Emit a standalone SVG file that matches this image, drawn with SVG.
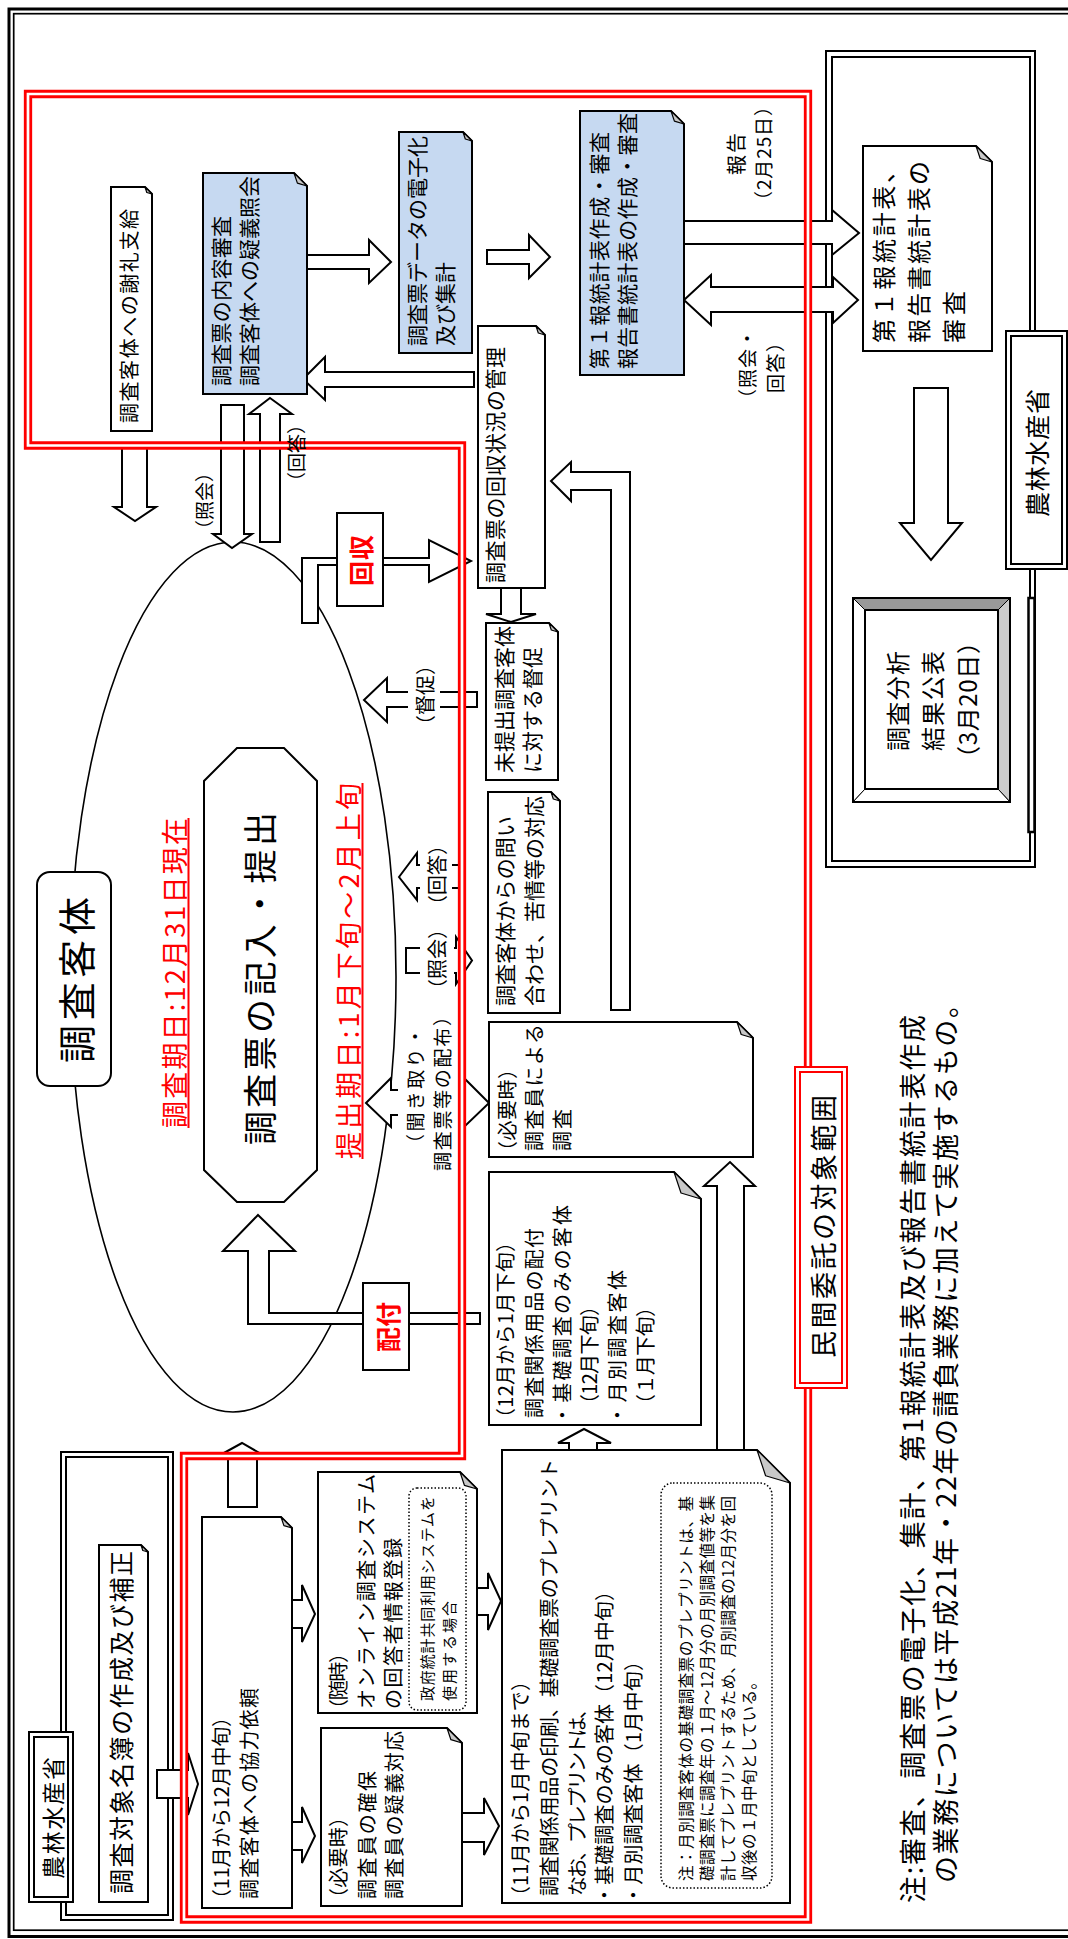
<svg xmlns="http://www.w3.org/2000/svg" width="1068" height="1939" viewBox="0 0 1068 1939">
<style>
.bx{fill:#fff;stroke:#000;stroke-width:2}
.bu{fill:#C6D9F1;stroke:#000;stroke-width:2}
.fd{fill:#C8C8C8;stroke:#000;stroke-width:1.2;stroke-linejoin:round}
.ar{fill:#fff;stroke:#000;stroke-width:2;stroke-linejoin:miter}
.fr{fill:none;stroke:#000;stroke-width:2}
.t{font-family:'Noto Sans CJK JP','Noto Sans CJK SC',sans-serif;fill:#000}
.rt{font-family:'Noto Sans CJK JP','Noto Sans CJK SC',sans-serif;fill:#FF0000}
.dot{fill:none;stroke:#000;stroke-width:1.5;stroke-dasharray:1.5 2}
.gap{fill:#fff;stroke:none}
</style>
<rect width="1068" height="1939" fill="#fff"/>
<g id="page-frame">
<rect x="9" y="9" width="1100" height="1927.5" fill="none" stroke="#000" stroke-width="3"/>
<rect x="13.7" y="13.7" width="1100" height="1916.5" fill="none" stroke="#000" stroke-width="1.7"/>
</g>
<g id="maff-left-frame">
<rect x="61" y="1452" width="112" height="468" class="fr"/>
<rect x="66" y="1457" width="102" height="458" class="fr"/>
</g>
<g id="maff-right-frame">
<rect x="826" y="51" width="209" height="816" class="fr"/>
<rect x="832" y="57" width="198" height="804" class="fr"/>
<rect x="1028.5" y="598" width="6" height="234" fill="#fff" stroke="#000" stroke-width="2.5"/>
</g>
<g id="survey-ellipse">
<ellipse cx="233" cy="977" rx="163" ry="435" fill="none" stroke="#000" stroke-width="1.6"/>
</g>
<g id="connectors">
<polygon class="ar" points="157,1770 188,1770 188,1753 198,1784 188,1815 188,1798 157,1798"/>
<polygon class="ar" points="228,1507 228,1459 213,1459 242,1443 270,1459 257,1459 257,1507"/>
<polygon class="ar" points="292,1600 302,1600 302,1585 315,1614 302,1642 302,1628 292,1628"/>
<polygon class="ar" points="292,1822 302,1822 302,1807 315,1836 302,1863 302,1850 292,1850"/>
<polygon class="ar" points="462,1813 484,1813 484,1798 499,1826 484,1855 484,1842 462,1842"/>
<polygon class="ar" points="477,1588 488,1588 488,1573 501,1601 488,1630 488,1615 477,1615"/>
<polygon class="ar" points="717,1452 717,1186 704,1186 730,1162 755,1186 744,1186 744,1452"/>
<polygon class="ar" points="569,1452 569,1443 558,1443 584,1429 611,1443 597,1443 597,1452"/>
<polygon class="ar" points="258,1215 295,1251 269,1251 269,1313 480,1313 480,1324 248,1324 248,1251 223,1251"/>
<polygon class="ar" points="302,623 302,558 429,558 429,540 471,561 429,582 429,565 318,565 318,623"/>
<polygon class="ar" points="364,700 387,678 387,692 477,692 477,707 387,707 387,722"/>
<rect class="gap" x="408" y="689" width="32" height="21"/>
<text class="t" font-size="20" transform="translate(433 735) rotate(-90)">（督促）</text>
<polygon class="ar" points="399,877 417,853 417,865 465,865 465,888 417,888 417,900"/>
<rect class="gap" x="420" y="862" width="32" height="29"/>
<text class="t" font-size="20" transform="translate(445 915) rotate(-90)">（回答）</text>
<polygon class="ar" points="406,948 456,948 456,937 472,960.5 456,984 456,973 406,973"/>
<rect class="gap" x="420" y="945" width="34" height="31"/>
<text class="t" font-size="20" transform="translate(445 999) rotate(-90)">（照会）</text>
<polygon class="ar" points="366,1103 391,1078 391,1090 464,1090 464,1078 489,1103 464,1127 464,1115 391,1115 391,1127"/>
<rect class="gap" x="398" y="1087" width="61" height="31"/>
<text class="t" font-size="19" textLength="126" transform="translate(423 1153) rotate(-90)">（聞き取り・</text>
<text class="t" font-size="19" textLength="164" transform="translate(450 1171) rotate(-90)">調査票等の配布）</text>
<polygon class="ar" points="221,405 244,405 244,534 252,534 232,548 213,534 221,534"/>
<text class="t" font-size="19" transform="translate(212 539) rotate(-90)">（照会）</text>
<polygon class="ar" points="270,398 292,414 280,414 280,542 260,542 260,414 249,414"/>
<polygon class="ar" points="122,443 147,443 147,507 156,507 135,521 114,507 122,507"/>
<polygon class="ar" points="307,255 369,255 369,240 391,262 369,283 369,269 307,269"/>
<polygon class="ar" points="474,372 325,372 325,357 303,379 325,400 325,387 474,387"/>
<polygon class="ar" points="487,250 529,250 529,235 550,257 529,278 529,264 487,264"/>
<polygon class="ar" points="684,221 832,221 832,210 859,233 832,255 832,244 684,244"/>
<polygon class="ar" points="684,300 711,275 711,287 833,287 833,277 858,300 833,323 833,312 711,312 711,325"/>
<text class="t" font-size="20" textLength="42" transform="translate(744 175) rotate(-90)">報告</text>
<text class="t" font-size="19" textLength="113" transform="translate(771 210) rotate(-90)">（2月25日）</text>
<text class="t" font-size="19" textLength="79" transform="translate(755 408) rotate(-90)">（照会・</text>
<text class="t" font-size="19" textLength="60" transform="translate(783 393) rotate(-90)">回答）</text>
<polygon class="ar" points="914,388 948,388 948,523 962,523 931,560 900,523 914,523"/>
<polygon class="ar" points="501,588 521,588 521,614 536,614 511,622 486,614 501,614"/>
<polygon class="ar" points="630,1010 630,472 571,472 571,462 551,481 571,501 571,490 611,490 611,1010"/>
</g>
<g id="outsourcing-frame">
<path d="M28,94 H808 V1919.5 H184 V1456 H462 V445.5 H28 Z" fill="none" stroke="#FF0000" stroke-width="8.3"/>
<path d="M28,94 H808 V1919.5 H184 V1456 H462 V445.5 H28 Z" fill="none" stroke="#fff" stroke-width="2.7"/>
</g>
<g id="connector-labels">
<text class="t" font-size="19" transform="translate(304 491) rotate(-90)">（回答）</text>
</g>
<g id="maff-left">
<rect x="29" y="1732" width="44" height="170" class="bx"/>
<rect x="34" y="1737" width="34" height="160" class="fr"/>
<text class="t" font-size="23" textLength="122" transform="translate(62 1879) rotate(-90)">農林水産省</text>
</g>
<g id="list-making">
<path class="bx" d="M99,1545 H141 L148,1552 V1902 H99 Z"/>
<path class="fd" d="M141,1545 L148,1552 L142.8,1550.5 Z"/>
<text class="t" font-size="25" textLength="343" transform="translate(131 1894) rotate(-90)">調査対象名簿の作成及び補正</text>
</g>
<g id="request">
<path class="bx" d="M202,1517 H281 L292,1528 V1908 H202 Z"/>
<path class="fd" d="M281,1517 L292,1528 L283.9,1525.6 Z"/>
<text class="t" font-size="20" textLength="202" transform="translate(229 1909) rotate(-90)">（11月から12月中旬）</text>
<text class="t" font-size="20" textLength="211" transform="translate(257 1899) rotate(-90)">調査客体への協力依頼</text>
</g>
<g id="enumerator">
<path class="bx" d="M321,1728 H447 L462,1743 V1906 H321 Z"/>
<path class="fd" d="M447,1728 L462,1743 L450.9,1739.7 Z"/>
<text class="t" font-size="20" textLength="101" transform="translate(346 1908) rotate(-90)">（必要時）</text>
<text class="t" font-size="20" textLength="128" transform="translate(375 1899) rotate(-90)">調査員の確保</text>
<text class="t" font-size="20" textLength="168" transform="translate(402 1899) rotate(-90)">調査員の疑義対応</text>
</g>
<g id="online">
<path class="bx" d="M318,1472 H460 L477,1489 V1713 H318 Z"/>
<path class="fd" d="M460,1472 L477,1489 L464.4,1485.3 Z"/>
<text class="t" font-size="20" textLength="76" transform="translate(346 1719) rotate(-90)">（随時）</text>
<text class="t" font-size="20" textLength="235" transform="translate(374 1709) rotate(-90)">オンライン調査システム</text>
<text class="t" font-size="20" textLength="171" transform="translate(401 1709) rotate(-90)">の回答者情報登録</text>
<rect class="dot" x="409" y="1488" width="57" height="222" rx="8"/>
<text class="t" font-size="15" textLength="205" transform="translate(433 1701) rotate(-90)">政府統計共同利用システムを</text>
<text class="t" font-size="15" textLength="100" transform="translate(455 1701) rotate(-90)">使用する場合</text>
</g>
<g id="printing">
<path class="bx" d="M502,1450 H757 L790,1483 V1903 H502 Z"/>
<path class="fd" d="M757,1450 L790,1483 L765.6,1475.7 Z"/>
<text class="t" font-size="20" textLength="235" transform="translate(528 1906) rotate(-90)">（11月から1月中旬まで）</text>
<text class="t" font-size="20" textLength="437" transform="translate(557 1896) rotate(-90)">調査関係用品の印刷、基礎調査票のプレプリント</text>
<text class="t" font-size="20" textLength="197" transform="translate(585 1896) rotate(-90)">なお、プレプリントは、</text>
<text class="t" font-size="20" textLength="324" transform="translate(612 1905) rotate(-90)">・基礎調査のみの客体（12月中旬）</text>
<text class="t" font-size="20" textLength="254" transform="translate(641 1905) rotate(-90)">・月別調査客体（1月中旬）</text>
<rect class="dot" x="661" y="1483" width="111" height="405" rx="12"/>
<text class="t" font-size="15.5" textLength="385" transform="translate(692 1881) rotate(-90)">注：月別調査客体の基礎調査票のプレプリントは、基</text>
<text class="t" font-size="15.5" textLength="386" transform="translate(713 1881) rotate(-90)">礎調査票に調査年の１月～12月分の月別調査値等を集</text>
<text class="t" font-size="15.5" textLength="385" transform="translate(734 1881) rotate(-90)">計してプレプリントするため、月別調査の12月分を回</text>
<text class="t" font-size="15.5" textLength="207" transform="translate(755 1881) rotate(-90)">収後の１月中旬としている。</text>
</g>
<g id="distribution">
<path class="bx" d="M489,1172 H674 L701,1199 V1425 H489 Z"/>
<path class="fd" d="M674,1172 L701,1199 L681,1193 Z"/>
<text class="t" font-size="20" textLength="196" transform="translate(513 1428) rotate(-90)">（12月から1月下旬）</text>
<text class="t" font-size="20" textLength="190" transform="translate(542 1418) rotate(-90)">調査関係用品の配付</text>
<text class="t" font-size="20" textLength="220" transform="translate(570 1425) rotate(-90)">・基礎調査のみの客体</text>
<text class="t" font-size="20" textLength="118" transform="translate(597 1414) rotate(-90)">（12月下旬）</text>
<text class="t" font-size="20" textLength="155" transform="translate(625 1425) rotate(-90)">・月別調査客体</text>
<text class="t" font-size="20" textLength="117" transform="translate(653 1414) rotate(-90)">（１月下旬）</text>
</g>
<g id="haifu-label">
<rect x="363" y="1283" width="46" height="87" class="bx"/>
<text class="rt" font-size="25" font-weight="bold" textLength="50" transform="translate(398 1352) rotate(-90)">配付</text>
</g>
<g id="survey-subject">
<rect x="37" y="872" width="74" height="214" rx="13" class="bx"/>
<text class="t" font-size="38" textLength="166" transform="translate(91 1063) rotate(-90)">調査客体</text>
<text class="rt" font-size="27" textLength="310" transform="translate(185 1128) rotate(-90)">調査期日:12月31日現在</text>
<line x1="188.5" y1="818" x2="188.5" y2="1128" stroke="#FF0000" stroke-width="2"/>
<polygon class="bx" points="237,748 284,748 317,781 317,1170 284,1202 237,1202 204,1170 204,781"/>
<text class="t" font-size="34" textLength="333" transform="translate(273 1145) rotate(-90)">調査票の記入・提出</text>
<text class="rt" font-size="27" textLength="376" transform="translate(359 1159) rotate(-90)">提出期日:1月下旬～2月上旬</text>
<line x1="362.5" y1="783" x2="362.5" y2="1159" stroke="#FF0000" stroke-width="2"/>
</g>
<g id="kaishu-label">
<rect x="337" y="513" width="46" height="93" class="bx"/>
<text class="rt" font-size="25" font-weight="bold" textLength="51" transform="translate(371 586) rotate(-90)">回収</text>
</g>
<g id="collection-status">
<path class="bx" d="M478,326 H536 L545,335 V588 H478 Z"/>
<path class="fd" d="M536,326 L545,335 L538.3,333 Z"/>
<text class="t" font-size="21" textLength="236" transform="translate(503 583) rotate(-90)">調査票の回収状況の管理</text>
</g>
<g id="reminder">
<path class="bx" d="M486,623 H549 L558,632 V780 H486 Z"/>
<path class="fd" d="M549,623 L558,632 L551.3,630 Z"/>
<text class="t" font-size="21" textLength="147" transform="translate(512 773) rotate(-90)">未提出調査客体</text>
<text class="t" font-size="21" textLength="126" transform="translate(540 773) rotate(-90)">に対する督促</text>
</g>
<g id="inquiries">
<path class="bx" d="M488,792 H551 L560,801 V1013 H488 Z"/>
<path class="fd" d="M551,792 L560,801 L553.3,799 Z"/>
<text class="t" font-size="21" textLength="190" transform="translate(513 1006) rotate(-90)">調査客体からの問い</text>
<text class="t" font-size="21" textLength="210" transform="translate(542 1006) rotate(-90)">合わせ、苦情等の対応</text>
</g>
<g id="enumerator-survey">
<path class="bx" d="M489,1022 H737 L753,1038 V1157 H489 Z"/>
<path class="fd" d="M737,1022 L753,1038 L741.2,1034.5 Z"/>
<text class="t" font-size="20" textLength="102" transform="translate(515 1161) rotate(-90)">（必要時）</text>
<text class="t" font-size="20" textLength="127" transform="translate(542 1151) rotate(-90)">調査員による</text>
<text class="t" font-size="20" textLength="42" transform="translate(570 1151) rotate(-90)">調査</text>
</g>
<g id="reward">
<path class="bx" d="M111,187 H145 L152,194 V431 H111 Z"/>
<path class="fd" d="M145,187 L152,194 L146.8,192.5 Z"/>
<text class="t" font-size="20" textLength="214" transform="translate(137 423) rotate(-90)">調査客体への謝礼支給</text>
</g>
<g id="review">
<path class="bu" d="M203,173 H294 L307,186 V394 H203 Z"/>
<path class="fd" d="M294,173 L307,186 L297.4,183.1 Z"/>
<text class="t" font-size="21" textLength="170" transform="translate(229 386) rotate(-90)">調査票の内容審査</text>
<text class="t" font-size="21" textLength="210" transform="translate(257 386) rotate(-90)">調査客体への疑義照会</text>
</g>
<g id="digitize">
<path class="bu" d="M399,132 H463 L472,141 V353 H399 Z"/>
<path class="fd" d="M463,132 L472,141 L465.3,139 Z"/>
<text class="t" font-size="21" textLength="210" transform="translate(425 346) rotate(-90)">調査票データの電子化</text>
<text class="t" font-size="21" textLength="84" transform="translate(453 346) rotate(-90)">及び集計</text>
</g>
<g id="tables">
<path class="bu" d="M580,111 H671 L684,124 V375 H580 Z"/>
<path class="fd" d="M671,111 L684,124 L674.4,121.1 Z"/>
<text class="t" font-size="21" textLength="237" transform="translate(607 369) rotate(-90)">第１報統計表作成・審査</text>
<text class="t" font-size="21" textLength="256" transform="translate(635 369) rotate(-90)">報告書統計表の作成・審査</text>
</g>
<g id="maff-right">
<rect x="1006" y="331" width="61" height="238" class="bx"/>
<rect x="1011" y="336" width="51" height="228" class="fr"/>
<text class="t" font-size="25" textLength="128" transform="translate(1047 517) rotate(-90)">農林水産省</text>
</g>
<g id="maff-review">
<path class="bx" d="M863,146 H976 L992,162 V351 H863 Z"/>
<path class="fd" d="M976,146 L992,162 L980.2,158.5 Z"/>
<text class="t" font-size="24" textLength="184" transform="translate(893 343) rotate(-90)">第１報統計表、</text>
<text class="t" font-size="24" textLength="182" transform="translate(928 343) rotate(-90)">報告書統計表の</text>
<text class="t" font-size="24" textLength="52" transform="translate(963 343) rotate(-90)">審査</text>
</g>
<g id="publication">
<rect x="853" y="598" width="157" height="204" class="bx"/>
<polygon points="853,598 1010,598 998,610 865,610" fill="#999" stroke="#000" stroke-width="1"/>
<polygon points="1010,598 1010,802 998,789 998,610" fill="#ccc" stroke="#000" stroke-width="1"/>
<polygon points="853,598 865,610 865,789 853,802" fill="#fff" stroke="#000" stroke-width="1"/>
<polygon points="853,802 865,789 998,789 1010,802" fill="#fff" stroke="#000" stroke-width="1"/>
<rect x="865" y="610" width="133" height="179" class="bx"/>
<rect x="853" y="598" width="157" height="204" fill="none" stroke="#000" stroke-width="2"/>
<text class="t" font-size="24" textLength="100" transform="translate(907 751) rotate(-90)">調査分析</text>
<text class="t" font-size="24" textLength="100" transform="translate(942 751) rotate(-90)">結果公表</text>
<text class="t" font-size="24" textLength="140" transform="translate(977 770) rotate(-90)">（3月20日）</text>
</g>
<g id="outsourcing-label">
<rect x="795" y="1067" width="52" height="321" fill="#fff" stroke="#FF0000" stroke-width="2"/>
<rect x="800" y="1072" width="42" height="311" fill="none" stroke="#FF0000" stroke-width="2"/>
<text class="t" font-size="27" textLength="263" transform="translate(834 1358) rotate(-90)">民間委託の対象範囲</text>
</g>
<g id="note">
<text class="t" font-size="27" textLength="888" transform="translate(923 1903) rotate(-90)">注:審査、調査票の電子化、集計、第1報統計表及び報告書統計表作成</text>
<text class="t" font-size="27" textLength="892" transform="translate(956 1883) rotate(-90)">の業務については平成21年・22年の請負業務に加えて実施するもの。</text>
</g>
</svg>
